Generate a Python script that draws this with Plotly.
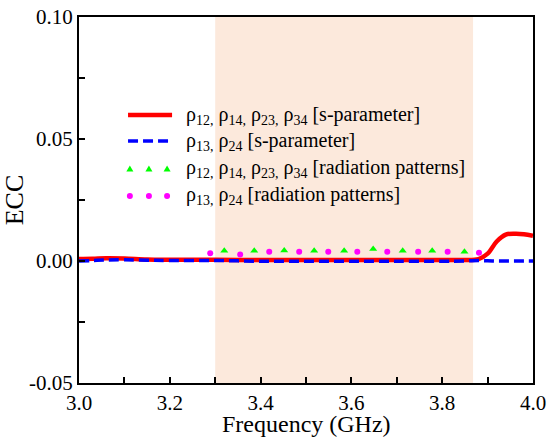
import plotly.graph_objects as go

# ---- data ----
freq_s = [3.00, 3.03, 3.06, 3.10, 3.15, 3.20, 3.30, 3.40, 3.50, 3.60, 3.70, 3.80, 3.85, 3.88, 3.90, 3.92, 3.94, 3.96, 3.98, 4.00]
ecc_s_adj = [0.0008, 0.0009, 0.0011, 0.0010, 0.0006, 0.0005, 0.0005, 0.0004, 0.0004, 0.0004, 0.0004, 0.0004, 0.0004, 0.0008, 0.0030, 0.0080, 0.0108, 0.0112, 0.0110, 0.0103]
ecc_s_diag = [0.0000, 0.0002, 0.0004, 0.0005, 0.0003, 0.0002, 0.0002, -0.0001, -0.0001, -0.0001, -0.0001, -0.0001, 0.0000, 0.0002, 0.0001, 0.0000, 0.0000, 0.0000, 0.0000, 0.0000]

freq_rp_adj = [3.32, 3.386, 3.452, 3.518, 3.584, 3.648, 3.713, 3.778, 3.849]
ecc_rp_adj = [0.0042, 0.0042, 0.0043, 0.0042, 0.0042, 0.0049, 0.0042, 0.0042, 0.0038]

freq_rp_diag = [3.289, 3.355, 3.419, 3.485, 3.549, 3.613, 3.679, 3.747, 3.812, 3.881]
ecc_rp_diag = [0.0032, 0.0027, 0.0038, 0.0038, 0.0038, 0.0038, 0.0038, 0.0038, 0.0038, 0.0034]

band = [3.30, 3.868]

x_tickvals = [3.0, 3.2, 3.4, 3.6, 3.8, 4.0]
x_ticktext = ["3.0", "3.2", "3.4", "3.6", "3.8", "4.0"]
y_tickvals = [-0.05, 0.0, 0.05, 0.10]
y_ticktext = ["-0.05", "0.00", "0.05", "0.10"]

legend_labels = [
    "ρ<sub>12,</sub> ρ<sub>14,</sub> ρ<sub>23,</sub> ρ<sub>34</sub> [s-parameter]",
    "ρ<sub>13,</sub> ρ<sub>24</sub> [s-parameter]",
    "ρ<sub>12,</sub> ρ<sub>14,</sub> ρ<sub>23,</sub> ρ<sub>34</sub> [radiation patterns]",
    "ρ<sub>13,</sub> ρ<sub>24</sub> [radiation patterns]",
]

FONT = "Liberation Serif"
RED = "#ff0000"
BLUE = "#0000ff"
GREEN = "#00ff00"
MAGENTA = "#ff00ff"

fig = go.Figure()

fig.add_trace(go.Scatter(x=freq_s, y=ecc_s_adj, mode="lines", line=dict(color=RED, width=4.5, shape="spline"), showlegend=False))
fig.add_trace(go.Scatter(x=freq_s, y=ecc_s_diag, mode="lines", line=dict(color=BLUE, width=3.5, dash="10px,5px", shape="spline"), showlegend=False))
fig.add_trace(go.Scatter(x=freq_rp_adj, y=ecc_rp_adj, mode="markers", marker=dict(symbol="triangle-up", color=GREEN, size=7), showlegend=False))
fig.add_trace(go.Scatter(x=freq_rp_diag, y=ecc_rp_diag, mode="markers", marker=dict(symbol="circle", color=MAGENTA, size=6), showlegend=False))

# shaded band
fig.add_vrect(x0=band[0], x1=band[1], fillcolor="rgb(252,233,220)", line_width=0, layer="below")

# custom legend drawn with paper-referenced shapes
leg_y = [0.732, 0.661, 0.585, 0.511]
glyph_x = [0.112, 0.154, 0.194]
line_x = [0.108, 0.205]
text_x = 0.232

fig.add_shape(type="line", xref="paper", yref="paper", x0=line_x[0], x1=line_x[1], y0=leg_y[0], y1=leg_y[0],
              line=dict(color=RED, width=4.5))
fig.add_shape(type="line", xref="paper", yref="paper", x0=line_x[0], x1=line_x[1], y0=leg_y[1], y1=leg_y[1],
              line=dict(color=BLUE, width=3.5, dash="10px,5px"))
for gx in glyph_x:
    fig.add_shape(type="path", xref="paper", yref="paper", xsizemode="pixel", ysizemode="pixel",
                  xanchor=gx, yanchor=leg_y[2], path="M-3.5,-2.5 L3.5,-2.5 L0,3.5 Z",
                  fillcolor=GREEN, line=dict(width=0))
    fig.add_shape(type="circle", xref="paper", yref="paper", xsizemode="pixel", ysizemode="pixel",
                  xanchor=gx, yanchor=leg_y[3], x0=-3, x1=3, y0=-3, y1=3,
                  fillcolor=MAGENTA, line=dict(width=0))

for lab, yy in zip(legend_labels, leg_y):
    fig.add_annotation(x=text_x, y=yy, xref="paper", yref="paper", text=lab, showarrow=False,
                       xanchor="left", yanchor="middle", font=dict(family=FONT, size=20, color="black"))

# x-axis title placed as annotation just below the tick labels
fig.add_annotation(x=0.5, y=-0.112, xref="paper", yref="paper", text="Frequency (GHz)", showarrow=False,
                   xanchor="center", yanchor="middle", font=dict(family=FONT, size=24, color="black"))

axis_common = dict(showline=True, linecolor="black", linewidth=2, mirror=True,
                   ticks="inside", ticklen=6, tickwidth=1.5, tickcolor="black",
                   showgrid=False, zeroline=False, automargin=False,
                   tickfont=dict(family=FONT, size=21, color="black"))

fig.update_layout(
    width=549, height=439,
    margin=dict(l=79, r=16, t=17, b=56),
    paper_bgcolor="white", plot_bgcolor="white",
    font=dict(family=FONT, color="black"),
    xaxis=dict(range=[3.0, 4.0], tickmode="array", tickvals=x_tickvals, ticktext=x_ticktext,
               minor=dict(dtick=0.1, tick0=3.0, ticks="inside", ticklen=6, tickwidth=1.5, tickcolor="black"),
               **axis_common),
    yaxis=dict(range=[-0.05, 0.10], tickmode="array", tickvals=y_tickvals, ticktext=y_ticktext,
               minor=dict(dtick=0.025, tick0=0, ticks="inside", ticklen=6, tickwidth=1.5, tickcolor="black"),
               title=dict(text="ECC", font=dict(family=FONT, size=26, color="black"), standoff=2),
               **axis_common),
)

fig.write_html("out.html")
